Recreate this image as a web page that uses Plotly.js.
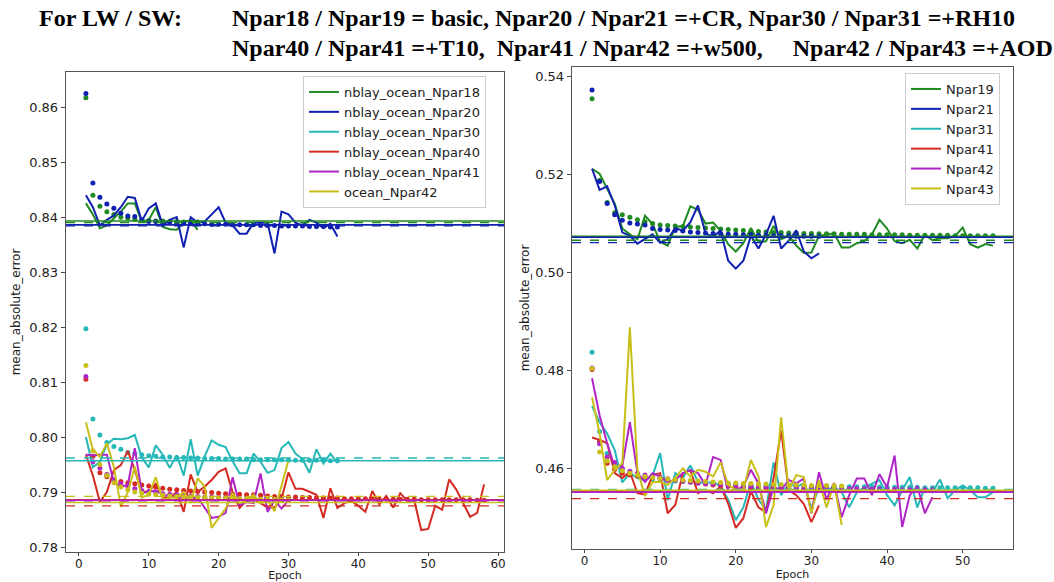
<!DOCTYPE html>
<html>
<head>
<meta charset="utf-8">
<script src="https://cdn.plot.ly/plotly-3.0.1.min.js"></script>
<style>html,body{margin:0;padding:0;background:#fff;}#chart{width:1054px;height:582px;}</style>
</head>
<body>
<div id="chart"></div>
<script>
// ---------- LEFT PANEL (LW) : training MAE (solid) ----------
const L_names = ["nblay_ocean_Npar18", "nblay_ocean_Npar20", "nblay_ocean_Npar30", "nblay_ocean_Npar40", "nblay_ocean_Npar41", "ocean_Npar42"];
const L_colors = ["#1f8a1f", "#1020b0", "#26b8b8", "#d42a22", "#b025c8", "#c8c018"];

const L_Npar18 = [0.8425, 0.8405, 0.8380, 0.8385, 0.8398, 0.8410, 0.8425, 0.8425, 0.8392, 0.8395, 0.8418, 0.8382, 0.8378, 0.8377, 0.8390, 0.8395, 0.8377];
const L_Npar20 = [0.8440, 0.8418, 0.8385, 0.8395, 0.8403, 0.8418, 0.8437, 0.8435, 0.8393, 0.8416, 0.8425, 0.8385, 0.8395, 0.8400, 0.8345, 0.8400, 0.8390, 0.8392, 0.8405, 0.8418, 0.8390, 0.8385, 0.8370, 0.8370, 0.8390, 0.8390, 0.8390, 0.8334, 0.8410, 0.8405, 0.8390, 0.8385, 0.8395, 0.8390, 0.8380, 0.8388, 0.8365];
const L_Npar30 = [0.8000, 0.7945, 0.7955, 0.7987, 0.7997, 0.7996, 0.7998, 0.8004, 0.7963, 0.7945, 0.7985, 0.7968, 0.7944, 0.7967, 0.7930, 0.7996, 0.7930, 0.7965, 0.7994, 0.7986, 0.7982, 0.7956, 0.7934, 0.7934, 0.7970, 0.7955, 0.7935, 0.7940, 0.7980, 0.7991, 0.7970, 0.7960, 0.7935, 0.7978, 0.7952, 0.7970, 0.7953];
const L_Npar40 = [0.7968, 0.7930, 0.7882, 0.7900, 0.7940, 0.7949, 0.7975, 0.7940, 0.7900, 0.7901, 0.7915, 0.7890, 0.7890, 0.7900, 0.7864, 0.7932, 0.7900, 0.7910, 0.7922, 0.7937, 0.7943, 0.7900, 0.7871, 0.7885, 0.7888, 0.7880, 0.7872, 0.7872, 0.7888, 0.7936, 0.7906, 0.7906, 0.7900, 0.7895, 0.7853, 0.7907, 0.7871, 0.7880, 0.7884, 0.7875, 0.7864, 0.7902, 0.7878, 0.7893, 0.7872, 0.7898, 0.7884, 0.7885, 0.7831, 0.7833, 0.7875, 0.7868, 0.7923, 0.7905, 0.7880, 0.7855, 0.7862, 0.7914];
const L_Npar41 = [0.7968, 0.7967, 0.7968, 0.7968, 0.7918, 0.7910, 0.7913, 0.7980, 0.7898, 0.7900, 0.7903, 0.7895, 0.7893, 0.7890, 0.7890, 0.7888, 0.7890, 0.7871, 0.7853, 0.7855, 0.7862, 0.7927, 0.7876, 0.7882, 0.7880, 0.7934, 0.7864, 0.7885, 0.7870, 0.7885];
const L_Npar42 = [0.8027, 0.7977, 0.7964, 0.7989, 0.7946, 0.7873, 0.7900, 0.7946, 0.7890, 0.7895, 0.7927, 0.7885, 0.7890, 0.7890, 0.7900, 0.7880, 0.7925, 0.7910, 0.7835, 0.7853, 0.7870, 0.7898, 0.7880, 0.7885, 0.7895, 0.7880, 0.7885, 0.7865, 0.7913, 0.7958];

// validation MAE (dots)
const L_val18 = [0.8617, 0.8440, 0.8420, 0.8410, 0.8405, 0.8400, 0.8398, 0.8396, 0.8395, 0.8394, 0.8393, 0.8393, 0.8392, 0.8392, 0.8391, 0.8391, 0.8391];
const L_val20 = [0.8625, 0.8462, 0.8436, 0.8424, 0.8416, 0.8407, 0.8402, 0.8401, 0.8395, 0.8392, 0.8392, 0.8390, 0.8390, 0.8389, 0.8389, 0.8388, 0.8388, 0.8388, 0.8387, 0.8387, 0.8387, 0.8386, 0.8386, 0.8386, 0.8386, 0.8385, 0.8385, 0.8385, 0.8384, 0.8384, 0.8384, 0.8384, 0.8383, 0.8383, 0.8383, 0.8382, 0.8382];
const L_val30 = [0.8197, 0.8033, 0.8004, 0.7990, 0.7983, 0.7978, 0.7972, 0.7970, 0.7968, 0.7966, 0.7965, 0.7964, 0.7964, 0.7963, 0.7963, 0.7962, 0.7962, 0.7961, 0.7961, 0.7961, 0.7960, 0.7960, 0.7960, 0.7960, 0.7959, 0.7959, 0.7959, 0.7959, 0.7959, 0.7958, 0.7958, 0.7958, 0.7958, 0.7958, 0.7958, 0.7957, 0.7957];
const L_val40 = [0.8105, 0.7965, 0.7935, 0.7928, 0.7922, 0.7919, 0.7917, 0.7915, 0.7913, 0.7911, 0.7909, 0.7907, 0.7905, 0.7904, 0.7903, 0.7902, 0.7901, 0.7900, 0.7899, 0.7898, 0.7897, 0.7896, 0.7896, 0.7895, 0.7895, 0.7894, 0.7893, 0.7892, 0.7892, 0.7891, 0.7891, 0.7890, 0.7890, 0.7889, 0.7889, 0.7889, 0.7889, 0.7888, 0.7888, 0.7888, 0.7888, 0.7888, 0.7887, 0.7887, 0.7887, 0.7887, 0.7887, 0.7887, 0.7886, 0.7886, 0.7886, 0.7886, 0.7886, 0.7886, 0.7886, 0.7886, 0.7885, 0.7885];
const L_val41 = [0.8110, 0.7955, 0.7944, 0.7932, 0.7922, 0.7915, 0.7910, 0.7906, 0.7903, 0.7901, 0.7899, 0.7897, 0.7896, 0.7895, 0.7894, 0.7893, 0.7892, 0.7891, 0.7891, 0.7890, 0.7889, 0.7889, 0.7888, 0.7888, 0.7888, 0.7887, 0.7887, 0.7887, 0.7886, 0.7886];
const L_val42 = [0.8130, 0.7975, 0.7950, 0.7930, 0.7917, 0.7909, 0.7904, 0.7900, 0.7898, 0.7896, 0.7895, 0.7894, 0.7893, 0.7892, 0.7891, 0.7891, 0.7890, 0.7890, 0.7889, 0.7889, 0.7889, 0.7888, 0.7888, 0.7888, 0.7887, 0.7887, 0.7887, 0.7887, 0.7886, 0.7886];

// reference horizontal levels (solid / dashed)
const L_hsolid = [0.8393, 0.8386, 0.7957, 0.7886, 0.7885, 0.7881];
const L_hdash  = [0.8390, 0.8384, 0.7962, 0.7875, 0.7884, 0.7892];

// ---------- RIGHT PANEL (SW) ----------
const R_names = ["Npar19", "Npar21", "Npar31", "Npar41", "Npar42", "Npar43"];
const R_colors = ["#1f8a1f", "#1020b0", "#26b8b8", "#d42a22", "#b025c8", "#c8c018"];

const R_Npar19 = [0.5212, 0.5202, 0.5171, 0.5141, 0.5090, 0.5078, 0.5068, 0.5116, 0.5099, 0.5063, 0.5055, 0.5093, 0.5095, 0.5135, 0.5128, 0.5100, 0.5102, 0.5085, 0.5058, 0.5043, 0.5060, 0.5091, 0.5062, 0.5064, 0.5095, 0.5068, 0.5075, 0.5055, 0.5040, 0.5041, 0.5075, 0.5078, 0.5080, 0.5051, 0.5051, 0.5060, 0.5064, 0.5078, 0.5108, 0.5090, 0.5064, 0.5060, 0.5067, 0.5049, 0.5077, 0.5066, 0.5070, 0.5070, 0.5075, 0.5092, 0.5058, 0.5051, 0.5058, 0.5055];
const R_Npar21 = [0.5212, 0.5169, 0.5176, 0.5137, 0.5082, 0.5075, 0.5059, 0.5068, 0.5078, 0.5061, 0.5068, 0.5091, 0.5085, 0.5103, 0.5137, 0.5080, 0.5073, 0.5086, 0.5024, 0.5008, 0.5024, 0.5075, 0.5049, 0.5078, 0.5116, 0.5049, 0.5065, 0.5086, 0.5043, 0.5029, 0.5039];
const R_Npar31 = [0.4727, 0.4694, 0.4671, 0.4637, 0.4571, 0.4590, 0.4580, 0.4575, 0.4585, 0.4631, 0.4535, 0.4590, 0.4580, 0.4606, 0.4572, 0.4570, 0.4572, 0.4563, 0.4536, 0.4494, 0.4520, 0.4572, 0.4536, 0.4515, 0.4612, 0.4545, 0.4569, 0.4562, 0.4569, 0.4518, 0.4561, 0.4555, 0.4562, 0.4551, 0.4520, 0.4551, 0.4561, 0.4568, 0.4576, 0.4545, 0.4524, 0.4555, 0.4582, 0.4520, 0.4561, 0.4551, 0.4577, 0.4539, 0.4555, 0.4565, 0.4555, 0.4541, 0.4541, 0.4551];
const R_Npar41 = [0.4663, 0.4658, 0.4651, 0.4590, 0.4580, 0.4593, 0.4549, 0.4546, 0.4586, 0.4590, 0.4508, 0.4525, 0.4590, 0.4596, 0.4549, 0.4556, 0.4549, 0.4563, 0.4528, 0.4478, 0.4498, 0.4553, 0.4520, 0.4510, 0.4580, 0.4677, 0.4555, 0.4545, 0.4527, 0.4490, 0.4524];
const R_Npar42 = [0.4784, 0.4708, 0.4651, 0.4602, 0.4605, 0.4694, 0.4590, 0.4572, 0.4590, 0.4583, 0.4572, 0.4576, 0.4590, 0.4596, 0.4590, 0.4566, 0.4623, 0.4617, 0.4553, 0.4556, 0.4563, 0.4597, 0.4569, 0.4508, 0.4562, 0.4555, 0.4576, 0.4569, 0.4579, 0.4508, 0.4592, 0.4536, 0.4570, 0.4500, 0.4545, 0.4579, 0.4579, 0.4545, 0.4588, 0.4561, 0.4626, 0.4480, 0.4545, 0.4563, 0.4508, 0.4541];
const R_Npar43 = [0.4745, 0.4671, 0.4576, 0.4597, 0.4610, 0.4888, 0.4597, 0.4543, 0.4572, 0.4572, 0.4566, 0.4580, 0.4600, 0.4583, 0.4597, 0.4593, 0.4583, 0.4612, 0.4566, 0.4556, 0.4556, 0.4617, 0.4583, 0.4480, 0.4525, 0.4704, 0.4555, 0.4586, 0.4582, 0.4508, 0.4576, 0.4520, 0.4569, 0.4484];

const R_val19 = [0.5355, 0.5188, 0.5143, 0.5122, 0.5118, 0.5113, 0.5108, 0.5104, 0.5100, 0.5097, 0.5096, 0.5095, 0.5094, 0.5093, 0.5092, 0.5091, 0.5090, 0.5089, 0.5088, 0.5087, 0.5086, 0.5085, 0.5084, 0.5083, 0.5082, 0.5082, 0.5081, 0.5081, 0.5080, 0.5080, 0.5079, 0.5079, 0.5079, 0.5078, 0.5078, 0.5078, 0.5078, 0.5077, 0.5077, 0.5077, 0.5077, 0.5077, 0.5076, 0.5076, 0.5076, 0.5076, 0.5076, 0.5076, 0.5075, 0.5075, 0.5075, 0.5075, 0.5075, 0.5075];
const R_val21 = [0.5373, 0.5186, 0.5141, 0.5118, 0.5107, 0.5101, 0.5099, 0.5097, 0.5090, 0.5088, 0.5087, 0.5086, 0.5085, 0.5083, 0.5082, 0.5081, 0.5080, 0.5079, 0.5078, 0.5078, 0.5077, 0.5077, 0.5076, 0.5076, 0.5075, 0.5075, 0.5075, 0.5074, 0.5074, 0.5074, 0.5074];
const R_val31 = [0.4837, 0.4675, 0.4630, 0.4608, 0.4597, 0.4590, 0.4585, 0.4581, 0.4578, 0.4576, 0.4575, 0.4574, 0.4573, 0.4572, 0.4571, 0.4570, 0.4569, 0.4568, 0.4568, 0.4567, 0.4567, 0.4566, 0.4566, 0.4565, 0.4565, 0.4565, 0.4564, 0.4564, 0.4564, 0.4563, 0.4563, 0.4563, 0.4563, 0.4562, 0.4562, 0.4562, 0.4562, 0.4562, 0.4561, 0.4561, 0.4561, 0.4561, 0.4561, 0.4561, 0.4560, 0.4560, 0.4560, 0.4560, 0.4560, 0.4560, 0.4560, 0.4560, 0.4559, 0.4559];
const R_val41 = [0.4802, 0.4655, 0.4610, 0.4598, 0.4590, 0.4586, 0.4584, 0.4582, 0.4581, 0.4580, 0.4578, 0.4576, 0.4574, 0.4572, 0.4570, 0.4568, 0.4566, 0.4564, 0.4563, 0.4562, 0.4561, 0.4560, 0.4560, 0.4559, 0.4559, 0.4558, 0.4558, 0.4558, 0.4557, 0.4557, 0.4557];
const R_val42 = [0.4805, 0.4650, 0.4623, 0.4612, 0.4600, 0.4594, 0.4590, 0.4586, 0.4583, 0.4580, 0.4578, 0.4576, 0.4574, 0.4572, 0.4570, 0.4569, 0.4568, 0.4567, 0.4566, 0.4565, 0.4564, 0.4563, 0.4563, 0.4562, 0.4562, 0.4561, 0.4561, 0.4560, 0.4560, 0.4560, 0.4559, 0.4559, 0.4559, 0.4558, 0.4558, 0.4558, 0.4558, 0.4557, 0.4557, 0.4557, 0.4557, 0.4556, 0.4556, 0.4556, 0.4556, 0.4556];
const R_val43 = [0.4804, 0.4633, 0.4615, 0.4603, 0.4595, 0.4590, 0.4586, 0.4583, 0.4581, 0.4579, 0.4578, 0.4577, 0.4576, 0.4575, 0.4574, 0.4573, 0.4572, 0.4571, 0.4570, 0.4570, 0.4569, 0.4569, 0.4568, 0.4568, 0.4567, 0.4567, 0.4566, 0.4566, 0.4566, 0.4565, 0.4565, 0.4565, 0.4564, 0.4564];

const R_hsolid = [0.5074, 0.5072, 0.4554, 0.4553, 0.4551, 0.4555];
const R_hdash  = [0.5066, 0.5061, 0.4557, 0.4538, 0.4552, 0.4556];

// tick values
const L_xticks = [0, 10, 20, 30, 40, 50, 60];
const L_yticks = [0.78, 0.79, 0.80, 0.81, 0.82, 0.83, 0.84, 0.85, 0.86];
const R_xticks = [0, 10, 20, 30, 40, 50];
const R_yticks = [0.46, 0.48, 0.50, 0.52, 0.54];

const titleLine0 = "For LW / SW:";
const titleLine1 = "Npar18 / Npar19 = basic, Npar20 / Npar21 =+CR, Npar30 / Npar31 =+RH10";
const titleLine2 = "Npar40 / Npar41 =+T10,  Npar41 / Npar42 =+w500,     Npar42 / Npar43 =+AOD";

// ---------- build ----------
const epochs = arr => arr.map((_, i) => i + 1);
const traces = [];
const L_train = [L_Npar18, L_Npar20, L_Npar30, L_Npar40, L_Npar41, L_Npar42];
const L_val = [L_val18, L_val20, L_val30, L_val40, L_val41, L_val42];
const R_train = [R_Npar19, R_Npar21, R_Npar31, R_Npar41, R_Npar42, R_Npar43];
const R_val = [R_val19, R_val21, R_val31, R_val41, R_val42, R_val43];

function addPanel(names, colors, train, val, xa, ya, legend) {
  for (let i = 0; i < names.length; i++) {
    traces.push({x: epochs(train[i]), y: train[i], mode: 'lines', name: names[i],
      line: {color: colors[i], width: 2}, xaxis: xa, yaxis: ya, legend: legend, hoverinfo: 'skip'});
    traces.push({x: epochs(val[i]), y: val[i], mode: 'markers', showlegend: false,
      marker: {color: colors[i], size: 5}, xaxis: xa, yaxis: ya, hoverinfo: 'skip'});
  }
}
addPanel(L_names, L_colors, L_train, L_val, 'x', 'y', 'legend');
addPanel(R_names, R_colors, R_train, R_val, 'x2', 'y2', 'legend2');

const shapes = [];
function addLevels(vals, colors, xref, yref, dash) {
  vals.forEach((v, i) => shapes.push({type: 'line', xref: xref + ' domain', yref: yref,
    x0: 0, x1: 1, y0: v, y1: v, line: {color: colors[i], width: dash ? 1.3 : 1.6, dash: dash ? 'dash' : 'solid'}}));
}
addLevels(L_hsolid, L_colors, 'x', 'y', false);
addLevels(L_hdash, L_colors, 'x', 'y', true);
addLevels(R_hsolid, R_colors, 'x2', 'y2', false);
addLevels(R_hdash, R_colors, 'x2', 'y2', true);

const W = 1054, H = 582;
const axFont = {family: 'DejaVu Sans', size: 13, color: '#222'};
const xtFont = {family: 'DejaVu Sans', size: 12, color: '#222'};
const ttlFont = {family: 'DejaVu Sans', size: 12, color: '#222'};
const xTtlFont = {family: 'DejaVu Sans', size: 11, color: '#222'};
const frame = {showline: true, mirror: true, linecolor: '#555', linewidth: 1.3, showgrid: false, zeroline: false,
  ticks: 'outside', ticklen: 4, tickcolor: '#444', tickfont: axFont};

const layout = {
  width: W, height: H,
  margin: {l: 0, r: 0, t: 0, b: 0},
  paper_bgcolor: '#fff', plot_bgcolor: '#fff',
  showlegend: true,
  xaxis: Object.assign({}, frame, {domain: [66 / W, 504 / W], range: [-1.85, 60.85], tickvals: L_xticks,
    ticklen: 3, tickfont: xtFont, ticklabelstandoff: -3, title: {text: 'Epoch', font: xTtlFont, standoff: 0}, anchor: 'y'}),
  yaxis: Object.assign({}, frame, {domain: [1 - 552 / H, 1 - 72 / H], range: [0.7791, 0.8664], tickvals: L_yticks,
    tickformat: '.2f', title: {text: 'mean_absolute_error', font: ttlFont, standoff: 6}, anchor: 'x'}),
  xaxis2: Object.assign({}, frame, {domain: [572 / W, 1013 / W], range: [-1.65, 56.65], tickvals: R_xticks,
    ticklen: 3, tickfont: xtFont, ticklabelstandoff: -3, title: {text: 'Epoch', font: xTtlFont, standoff: 0}, anchor: 'y2'}),
  yaxis2: Object.assign({}, frame, {domain: [1 - 549 / H, 1 - 67 / H], range: [0.4435, 0.5420], tickvals: R_yticks,
    tickformat: '.2f', title: {text: 'mean_absolute_error', font: ttlFont, standoff: 3}, anchor: 'x2'}),
  legend: {x: 303 / W, y: 1 - 76 / H, xanchor: 'left', yanchor: 'top', bgcolor: 'rgba(255,255,255,0.9)',
    bordercolor: '#cccccc', borderwidth: 1, font: {family: 'DejaVu Sans', size: 13, color: '#222'}, itemwidth: 30},
  legend2: {x: 905 / W, y: 1 - 73 / H, xanchor: 'left', yanchor: 'top', bgcolor: 'rgba(255,255,255,0.9)',
    bordercolor: '#cccccc', borderwidth: 1, font: {family: 'DejaVu Sans', size: 13, color: '#222'}, itemwidth: 30},
  shapes: shapes,
  annotations: [
    {text: '<b>' + titleLine0 + '</b>', xref: 'paper', yref: 'paper', x: 37 / W, y: 1 - 18 / H, xanchor: 'left', yanchor: 'middle',
      showarrow: false, font: {family: 'Liberation Serif', size: 24, color: '#000'}},
    {text: '<b>' + titleLine1 + '</b>', xref: 'paper', yref: 'paper', x: 230 / W, y: 1 - 18 / H, xanchor: 'left', yanchor: 'middle',
      showarrow: false, font: {family: 'Liberation Serif', size: 24, color: '#000'}},
    {text: '<b>' + titleLine2.replace(/  /g, ' &nbsp;') + '</b>', xref: 'paper', yref: 'paper', x: 230 / W, y: 1 - 48 / H, xanchor: 'left', yanchor: 'middle',
      showarrow: false, font: {family: 'Liberation Serif', size: 24, color: '#000'}}
  ]
};

Plotly.newPlot('chart', traces, layout, {staticPlot: true});
</script>
</body>
</html>
